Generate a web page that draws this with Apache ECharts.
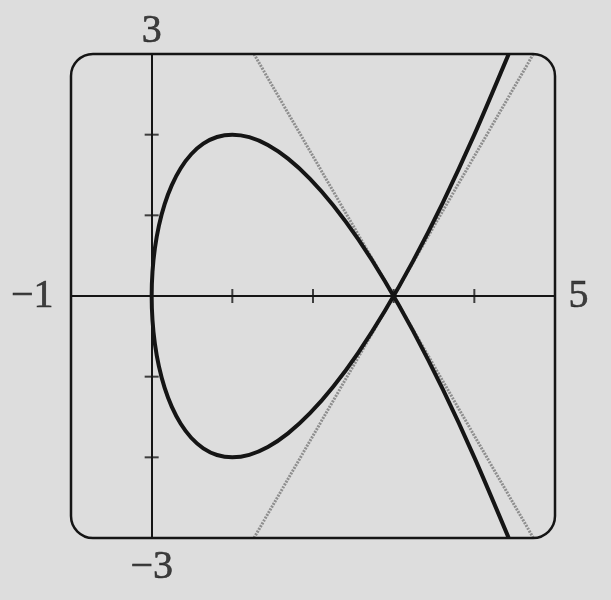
<!DOCTYPE html>
<html>
<head>
<meta charset="utf-8">
<script src="https://cdn.jsdelivr.net/npm/echarts@6/dist/echarts.min.js"></script>
<style>
html,body{margin:0;padding:0;background:#dddddd;}
#main{width:611px;height:600px;}
</style>
</head>
<body>
<div id="main"></div>
<script>
// Curve points (loop + two branches through the node at (3,0))
var curveX = [4.425, 4.41, 4.0, 3.61, 3.24, 2.89, 2.56, 2.25, 1.96, 1.69, 1.44, 1.21, 1.0, 0.81, 0.64, 0.49, 0.36, 0.25, 0.16, 0.09, 0.04, 0.01, 0.0,
              0.01, 0.04, 0.09, 0.16, 0.25, 0.36, 0.49, 0.64, 0.81, 1.0, 1.21, 1.44, 1.69, 1.96, 2.25, 2.56, 2.89, 3.24, 3.61, 4.0, 4.41, 4.425];
var curveY = [-3.0, -2.961, -2.0, -1.159, -0.432, 0.187, 0.704, 1.125, 1.456, 1.703, 1.872, 1.969, 2.0, 1.971, 1.888, 1.757, 1.584, 1.375, 1.136, 0.873, 0.592, 0.299, 0.0,
              -0.299, -0.592, -0.873, -1.136, -1.375, -1.584, -1.757, -1.888, -1.971, -2.0, -1.969, -1.872, -1.703, -1.456, -1.125, -0.704, -0.187, 0.432, 1.159, 2.0, 2.961, 3.0];
// Gray tangent lines at the node
var tangentAX = [1.268, 4.732];
var tangentAY = [3, -3];
var tangentBX = [1.268, 4.732];
var tangentBY = [-3, 3];
// Axis ranges and tick marks
var xRange = [-1, 5];
var yRange = [-3, 3];
var xTicks = [1, 2, 3, 4];
var yTicks = [-2, -1, 1, 2];
// End labels
var labelX = [-1, 5, 0, 0];
var labelY = [0, 0, 3, -3];
var labelText = ['\u22121', '5', '3', '\u22123'];

function zip(a, b) { return a.map(function (v, i) { return [v, b[i]]; }); }

var ink = '#151515';
var chart = echarts.init(document.getElementById('main'), null, {renderer: 'canvas'});

var labelData = labelX.map(function (x, i) {
  var pos = x < 0 ? 'left' : (x > 0 ? 'right' : (labelY[i] > 0 ? 'top' : 'bottom'));
  var dist = pos === 'left' ? 17 : (pos === 'right' ? 13 : (pos === 'top' ? 2 : 9));
  return {value: [x, labelY[i]], label: {show: true, position: pos, distance: dist, formatter: labelText[i]}};
});

var option = {
  backgroundColor: '#dddddd',
  animation: false,
  grid: {left: 71, right: 56, top: 54, bottom: 62, containLabel: false},
  xAxis: {
    type: 'value', min: xRange[0], max: xRange[1],
    axisLine: {show: true, onZero: true, lineStyle: {color: ink, width: 2}},
    axisTick: {show: false}, axisLabel: {show: false}, splitLine: {show: false}
  },
  yAxis: {
    type: 'value', min: yRange[0], max: yRange[1],
    axisLine: {show: true, onZero: true, lineStyle: {color: ink, width: 2}},
    axisTick: {show: false}, axisLabel: {show: false}, splitLine: {show: false}
  },
  series: [
    {type: 'line', data: zip(tangentAX, tangentAY), showSymbol: false, symbol: 'none',
     lineStyle: {color: '#8e8e8e', width: 3, type: [2, 1.2]}, z: 2},
    {type: 'line', data: zip(tangentBX, tangentBY), showSymbol: false, symbol: 'none',
     lineStyle: {color: '#8e8e8e', width: 3, type: [2, 1.2]}, z: 2},
    {type: 'line', data: zip(curveX, curveY), showSymbol: false, symbol: 'none', smooth: 0.3,
     lineStyle: {color: ink, width: 4}, z: 3},
    {type: 'scatter', data: xTicks.map(function (v) { return [v, 0]; }), symbol: 'rect',
     symbolSize: [2, 14], itemStyle: {color: ink}, z: 4, silent: true},
    {type: 'scatter', data: yTicks.map(function (v) { return [0, v]; }), symbol: 'rect',
     symbolSize: [14, 2], itemStyle: {color: ink}, z: 4, silent: true},
    {type: 'scatter', data: labelData, symbolSize: 1, itemStyle: {color: 'rgba(0,0,0,0)'},
     label: {show: true, color: ink, fontFamily: 'Liberation Serif', fontSize: 40,
             textBorderColor: ink, textBorderWidth: 0.6}, z: 5, silent: true}
  ]
};
chart.setOption(option);

var tl = chart.convertToPixel({gridIndex: 0}, [xRange[0], yRange[1]]);
var br = chart.convertToPixel({gridIndex: 0}, [xRange[1], yRange[0]]);
chart.setOption({
  graphic: [{
    type: 'rect', z: 10, silent: true,
    shape: {x: tl[0], y: tl[1], width: br[0] - tl[0], height: br[1] - tl[1], r: 22},
    style: {fill: 'none', stroke: ink, lineWidth: 2.5}
  }]
});
</script>
</body>
</html>
